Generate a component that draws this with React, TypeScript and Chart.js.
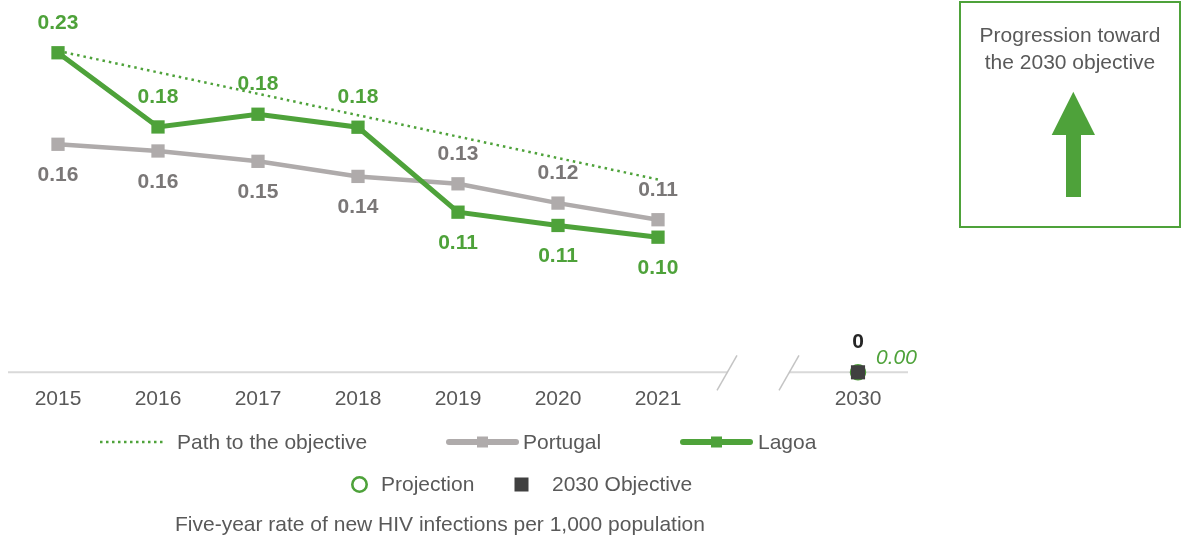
import React, { useEffect, useRef } from 'react';
import { Chart, registerables } from 'chart.js';

Chart.register(...registerables);

const FONT = '"Liberation Sans", Arial, sans-serif';
const GREEN = '#4EA23A';
const GREY_LINE = '#AFABAB';
const GREY_LABEL = '#7A7777';
const TEXT = '#595959';
const DARK = '#404040';

// Data
const years = ['2015', '2016', '2017', '2018', '2019', '2020', '2021', '', '2030'];
const lagoa: (number | null)[] = [0.2287, 0.1756, 0.1847, 0.1754, 0.1146, 0.1051, 0.0967, null, null];
const portugal: (number | null)[] = [0.1632, 0.1584, 0.151, 0.1402, 0.1349, 0.1211, 0.1092, null, null];
const pathToObjective: (number | null)[] = [0.23, null, null, null, null, null, 0.138, null, null];
const projection: (number | null)[] = [null, null, null, null, null, null, null, null, 0];
const objective2030: (number | null)[] = [null, null, null, null, null, null, null, null, 0];

const breakPlugin = {
  id: 'axisBreak',
  beforeDatasetsDraw(chart: any) {
    const { ctx, chartArea, scales } = chart;
    const x = scales.x;
    const y0 = scales.y.getPixelForValue(0);
    const gx = x.getPixelForValue(7);
    const step = x.getPixelForValue(8) - x.getPixelForValue(7);
    const half = step * 0.31;
    ctx.save();
    ctx.strokeStyle = '#D9D9D9';
    ctx.lineWidth = 2;
    ctx.beginPath();
    ctx.moveTo(chartArea.left, y0);
    ctx.lineTo(gx - half, y0);
    ctx.moveTo(gx + half, y0);
    ctx.lineTo(chartArea.right, y0);
    ctx.stroke();
    ctx.strokeStyle = '#C4C4C4';
    ctx.lineWidth = 1.5;
    for (const cx of [gx - half, gx + half]) {
      ctx.beginPath();
      ctx.moveTo(cx - 10, y0 + 18);
      ctx.lineTo(cx + 10, y0 - 17);
      ctx.stroke();
    }
    ctx.restore();
  },
};

const labelPlugin = {
  id: 'pointLabels',
  afterDatasetsDraw(chart: any) {
    const { ctx } = chart;
    chart.data.datasets.forEach((ds: any, di: number) => {
      if (!ds.labelMode) return;
      const meta = chart.getDatasetMeta(di);
      meta.data.forEach((pt: any, i: number) => {
        const v = ds.data[i];
        if (v === null || v === undefined) return;
        ctx.save();
        ctx.fillStyle = ds.labelColor;
        if (ds.labelMode === 'compare') {
          const other = chart.data.datasets.find((d: any) => d.label === ds.compareWith);
          const ov = other ? other.data[i] : null;
          const above = ov === null || v >= ov;
          ctx.font = `bold 21px ${FONT}`;
          ctx.textAlign = 'center';
          ctx.textBaseline = 'middle';
          ctx.fillText(v.toFixed(2), pt.x, pt.y + (above ? -30 : 31));
        } else if (ds.labelMode === 'above') {
          ctx.font = `bold 21px ${FONT}`;
          ctx.textAlign = 'center';
          ctx.textBaseline = 'middle';
          ctx.fillText(String(Math.round(v)), pt.x, pt.y - 30);
        } else if (ds.labelMode === 'right') {
          ctx.font = `italic 21px ${FONT}`;
          ctx.textAlign = 'left';
          ctx.textBaseline = 'middle';
          ctx.fillText(v.toFixed(2), pt.x + 18, pt.y - 14);
        }
        ctx.restore();
      });
    });
  },
};

export default function App() {
  const ref = useRef<HTMLCanvasElement>(null);
  useEffect(() => {
    if (!ref.current) return;
    const chart = new Chart(ref.current, {
      type: 'line',
      data: {
        labels: years,
        datasets: [
          {
            label: '2030 Objective',
            data: objective2030,
            showLine: false,
            pointStyle: 'rect',
            pointRadius: 10,
            pointBackgroundColor: DARK,
            pointBorderColor: DARK,
            pointBorderWidth: 0,
            order: 0,
            clip: false,
            labelMode: 'above',
            labelColor: '#262626',
          } as any,
          {
            label: 'Projection',
            data: projection,
            showLine: false,
            pointStyle: 'circle',
            pointRadius: 7,
            pointBackgroundColor: '#FFFFFF',
            pointBorderColor: GREEN,
            pointBorderWidth: 2.5,
            order: 1,
            clip: false,
            labelMode: 'right',
            labelColor: GREEN,
          } as any,
          {
            label: 'Path to the objective',
            data: pathToObjective,
            spanGaps: true,
            borderColor: GREEN,
            borderWidth: 2.5,
            borderDash: [2.5, 4],
            pointRadius: 0,
            fill: false,
            order: 2,
          } as any,
          {
            label: 'Lagoa',
            data: lagoa,
            borderColor: GREEN,
            backgroundColor: GREEN,
            borderWidth: 5,
            pointStyle: 'rect',
            pointRadius: 9.4,
            pointBackgroundColor: GREEN,
            pointBorderWidth: 0,
            order: 3,
            clip: false,
            labelMode: 'compare',
            compareWith: 'Portugal',
            labelColor: GREEN,
          } as any,
          {
            label: 'Portugal',
            data: portugal,
            borderColor: GREY_LINE,
            backgroundColor: GREY_LINE,
            borderWidth: 4.5,
            pointStyle: 'rect',
            pointRadius: 9.4,
            pointBackgroundColor: GREY_LINE,
            pointBorderWidth: 0,
            order: 4,
            clip: false,
            labelMode: 'compare',
            compareWith: 'Lagoa',
            labelColor: GREY_LABEL,
          } as any,
        ],
      },
      options: {
        responsive: false,
        animation: false,
        layout: { padding: { left: 4, right: 50, top: 10, bottom: 4.5 } },
        plugins: {
          legend: { display: false },
          tooltip: { enabled: false },
        },
        scales: {
          x: {
            offset: true,
            grid: { display: false, drawTicks: false, offset: true },
            border: { display: false },
            ticks: {
              color: TEXT,
              font: { size: 21, family: FONT },
              padding: 14,
              maxRotation: 0,
              autoSkip: false,
            },
          },
          y: { display: false, min: 0, max: 0.2593 },
        },
      },
      plugins: [breakPlugin, labelPlugin],
    });
    return () => chart.destroy();
  }, []);

  const textStyle: React.CSSProperties = {
    position: 'absolute',
    fontFamily: FONT,
    fontSize: 21,
    color: TEXT,
    lineHeight: '24px',
    whiteSpace: 'nowrap',
  };

  return (
    <div style={{ position: 'fixed', left: 0, top: 0, width: 1187, height: 541, background: '#fff', overflow: 'hidden' }}>
      <canvas ref={ref} width={960} height={430} style={{ position: 'absolute', left: -2, top: 0 }} />
      <svg width={1187} height={541} style={{ position: 'absolute', left: 0, top: 0, pointerEvents: 'none' }}>
        {/* legend symbols */}
        <line x1={100} y1={442} x2={164} y2={442} stroke={GREEN} strokeWidth={2.5} strokeDasharray="2.5 3.5" />
        <line x1={449} y1={442} x2={516} y2={442} stroke={GREY_LINE} strokeWidth={6} strokeLinecap="round" />
        <rect x={477} y={436.5} width={11} height={11} fill={GREY_LINE} />
        <line x1={683} y1={442} x2={750} y2={442} stroke={GREEN} strokeWidth={6} strokeLinecap="round" />
        <rect x={711} y={436.5} width={11} height={11} fill={GREEN} />
        <circle cx={359.5} cy={484.5} r={7.2} fill="#fff" stroke={GREEN} strokeWidth={2.6} />
        <rect x={514.5} y={477.5} width={14} height={14} fill={DARK} />
        {/* arrow */}
        <polygon points="1073.3,91.7 1095,135 1051.7,135" fill={GREEN} />
        <rect x={1066} y={134} width={15} height={63} fill={GREEN} />
      </svg>
      <div style={{ ...textStyle, left: 177, top: 430 }}>Path to the objective</div>
      <div style={{ ...textStyle, left: 523, top: 430 }}>Portugal</div>
      <div style={{ ...textStyle, left: 758, top: 430 }}>Lagoa</div>
      <div style={{ ...textStyle, left: 381, top: 472 }}>Projection</div>
      <div style={{ ...textStyle, left: 552, top: 472 }}>2030 Objective</div>
      <div style={{ ...textStyle, left: 175, top: 512 }}>Five-year rate of new HIV infections per 1,000 population</div>
      <div
        style={{
          position: 'absolute',
          left: 959,
          top: 1,
          width: 222,
          height: 227,
          boxSizing: 'border-box',
          border: `2px solid ${GREEN}`,
          fontFamily: FONT,
          fontSize: 21,
          color: TEXT,
          textAlign: 'center',
          lineHeight: '27px',
          paddingTop: 18,
        }}
      >
        Progression toward
        <br />
        the 2030 objective
      </div>
    </div>
  );
}
